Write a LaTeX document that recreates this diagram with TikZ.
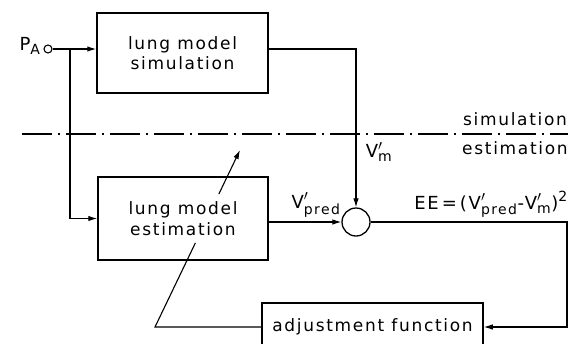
\documentclass[tikz,border=0pt]{standalone}
\usepackage{amsmath}
\usepackage{fontspec}
\setmainfont{DejaVu Sans}[LetterSpace=10]
\DeclareMathSizes{18}{18}{14}{11}
\usetikzlibrary{arrows.meta,calc}
\begin{document}
\begin{tikzpicture}[x=1pt,y=-1pt,line width=1.1pt,
  >={Latex[length=9pt,width=5.5pt]},
  every node/.style={font=\fontsize{17}{20.5}\selectfont, inner sep=0pt},
  blockbox/.style={draw,line width=1.5pt,rectangle,align=center,fill=white},
  junc/.style={circle,draw,line width=1.3pt},
  lbl/.style={font=\fontsize{18}{20}\selectfont}]
\useasboundingbox (0,0) rectangle (580,343);
\clip (0,0) rectangle (580,343);
\node[blockbox,minimum width=171pt,minimum height=80pt] (sim) at (182.5,53) {lung model\\simulation};
\node[blockbox,minimum width=170pt,minimum height=83pt] (est) at (183,218.5) {lung model\\estimation};
\node[blockbox,minimum width=221pt,minimum height=48pt] (adj) at (372.5,327) {adjustment function};
\node[junc,minimum size=8pt,line width=1.1pt] (pin) at (48,49) {};
\node[lbl,anchor=east] (pa) at (41,46) {P$_{\text{A}}$};
\node[junc,minimum size=28pt] (sum) at (356,222) {};
\coordinate (j) at (70,49);
\draw[->] (pin) -- (pin -| sim.west);
\draw[->] (j) |- (est.west);
\draw[->] (sim.east |- pin) -| (sum.north);
\draw[->] (sum.west -| est.east) -- (sum.west);
\coordinate (rt) at (567,222);
\draw[->] (sum.east) -- (rt) |- (adj.east);
\coordinate (fb) at (155,327);
\coordinate (tip) at (240,150);
\draw (adj.west) -- (fb) -- ($(fb)!0.475!(tip)$);
\draw[->] ($(fb)!0.751!(tip)$) -- (tip);
\coordinate (dl) at (22,134);
\coordinate (dr) at (568,134);
\draw[dash pattern=on 30pt off 6pt on 2pt off 6pt] (dl) -- (dr);
\node[lbl] (vm) at (379,152) {$\text{V}'_{\text{m}}$};
\node[lbl] (vp) at (316,205) {$\text{V}'_{\text{pred}}$};
\node[lbl] (ee) at (491,204) {$\text{EE\,=\,(V}'_{\text{pred}}\text{-V}'_{\text{m}}\text{)}^{\text{2}}$};
\node (simt) at (515,119) {simulation};
\node (estt) at (515,148) {estimation};
\end{tikzpicture}
\end{document}
